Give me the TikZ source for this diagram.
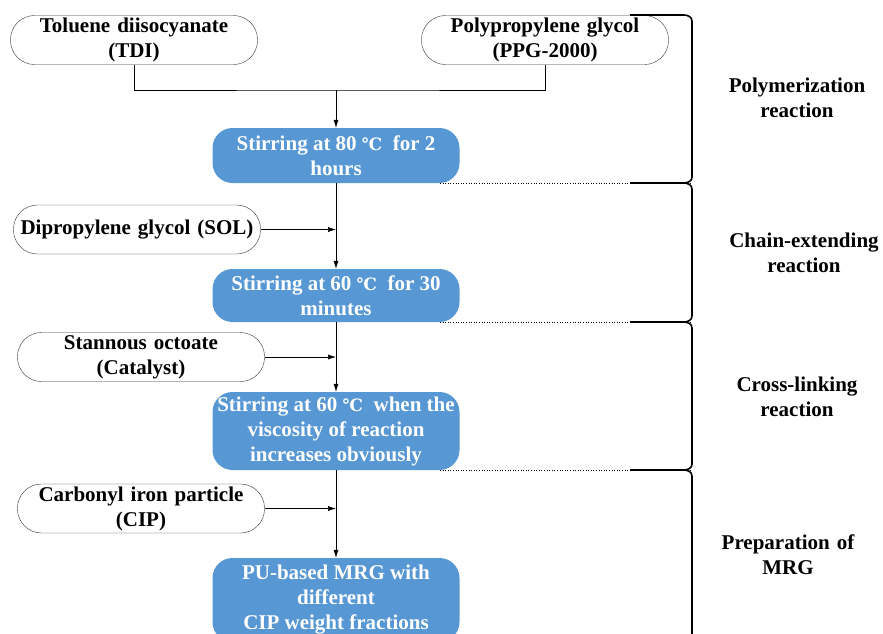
\documentclass[tikz,border=0pt]{standalone}
\usepackage{fontspec}
\setmainfont{Liberation Serif}
\newfontfamily\degfont{DejaVu Serif}
\newcommand{\degC}{{\degfont\fontsize{17}{25}\selectfont ℃}}
\usepackage{tikz}
\usetikzlibrary{arrows,arrows.meta,positioning}
\definecolor{stirblue}{RGB}{87,151,211}

\begin{document}
\begin{tikzpicture}[x=1pt,y=-1pt,>={Latex[length=8pt,width=5pt]},font=\fontsize{21}{25}\selectfont\bfseries]
\tikzstyle{input}=[draw=black!80,thin,fill=white,rounded corners=24pt,minimum width=247pt,minimum height=49pt,text width=239pt,align=center,inner xsep=4pt,inner ysep=0pt]
\tikzstyle{stirbox}=[fill=stirblue,draw=none,text=white,rounded corners=20pt,minimum width=247pt,align=center,inner sep=0pt]
\tikzstyle{phase}=[text width=170pt,align=center]
\tikzstyle{bracket}=[line width=1.6pt,black]

\useasboundingbox (0,0) rectangle (883,633);
% \draw[help lines] (0,0) grid[step=50] (883,633);

\node[input] (tdi) at (134,40) {Toluene diisocyanate\\(TDI)};
\node[input] (ppg) at (545,40) {Polypropylene glycol\\(PPG-2000)};
\node[stirbox,minimum height=55pt] (stirA) at (336,155.5) {Stirring at 80 \degC\ \ for 2\\hours};

\node[input] (sol) at (137,229.5) {Dipropylene glycol (SOL)};
\node[stirbox,minimum height=53pt] (stirB) at (336,295.5) {Stirring at 60 \degC\ \ for 30\\minutes};

\node[input] (cat) at (141,357) {Stannous octoate\\(Catalyst)};
\node[stirbox,minimum height=78pt] (stirC) at (336,431) {Stirring at 60 \degC\ \ when the\\viscosity of reaction\\increases obviously};

\node[input] (cip) at (141,508.5) {Carbonyl iron particle\\(CIP)};
\node[stirbox,minimum height=84pt] (mrg) at (336,600) {PU-based MRG with\\different\\CIP weight fractions};

\node[phase] (polyLbl) at (797,98) {Polymerization\\reaction};
\node[phase] (chainLbl) at (804,253) {Chain-extending\\reaction};
\node[phase] (crossLbl) at (797,397) {Cross-linking\\reaction};
\node[phase] (prepLbl) at (788,555) {Preparation of\\MRG};

\coordinate (join) at (336,90);

\draw[semithick] (tdi.south) |- (join) -| (ppg.south);
\draw[->, semithick] (join) -- (stirA.north);
\draw[->, semithick] (stirA.south) -- (stirB.north);
\draw[->, semithick] (stirB.south) -- (stirC.north);
\draw[->, semithick] (stirC.south) -- (mrg.north);

\path[->, semithick] (sol.east) edge (sol.east -| stirA.south);
\path[->, semithick] (cat.east) edge (cat.east -| stirA.south);
\path[->, semithick] (cip.east) edge (cip.east -| stirA.south);

% dotted guides to the brackets
\draw[dotted, semithick] (440,183) -- (690,183);
\draw[dotted, semithick] (440,322) -- (690,322);
\draw[dotted, semithick] (440,470) -- (690,470);

\draw[bracket] (630,15) -- (684,15) to[out=0,in=90] (692,21) -- (692,177) to[out=-90,in=0] (684,183) -- (630,183);
\draw[bracket] (684,183) to[out=0,in=90] (692,189) -- (692,316) to[out=-90,in=0] (684,322) -- (630,322);
\draw[bracket] (684,322) to[out=0,in=90] (692,328) -- (692,464) to[out=-90,in=0] (684,470) -- (630,470);
\draw[bracket] (684,470) to[out=0,in=90] (692,476) -- (692,640);

\end{tikzpicture}
\end{document}
